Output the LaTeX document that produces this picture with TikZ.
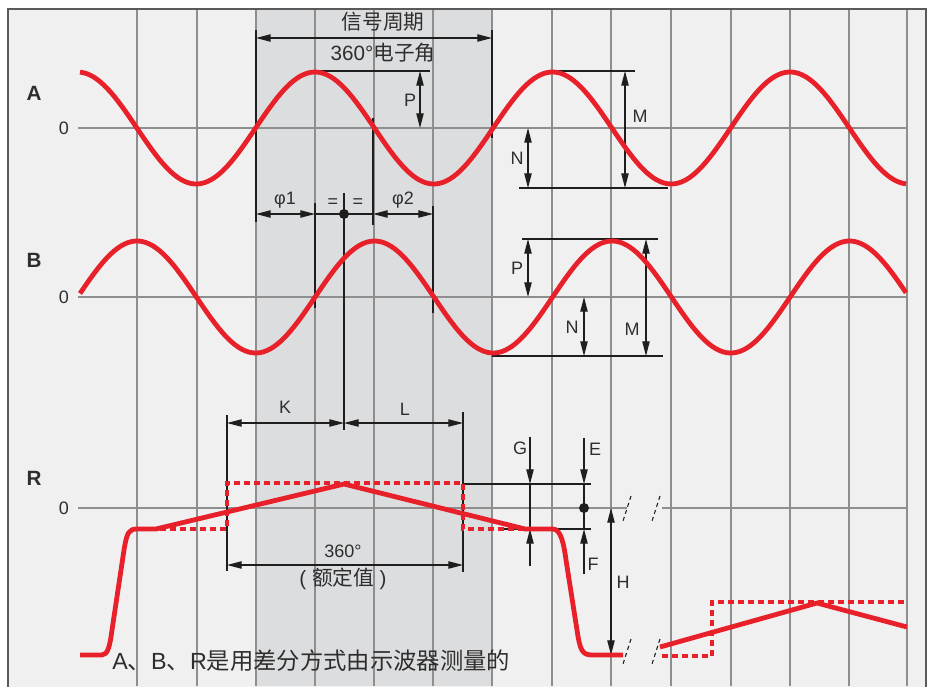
\documentclass[tikz,border=0pt]{standalone}
\usepackage{fontspec}
\setmainfont{Liberation Sans}
\newfontfamily\cjk{Noto Sans CJK SC}
\usetikzlibrary{arrows.meta}
\definecolor{bgc}{HTML}{F0F0F0}
\definecolor{shadec}{HTML}{DCDDDF}
\definecolor{gridc}{HTML}{8E8E8E}
\definecolor{linec}{HTML}{1E1E1E}
\definecolor{txtc}{HTML}{2E2E2E}
\definecolor{redc}{HTML}{E8202A}
\definecolor{framec}{HTML}{5A5A5A}
\begin{document}
\begin{tikzpicture}[x=0.75pt,y=-0.75pt,
  >={Triangle[length=11pt,width=5.5pt]},
  gridl/.style={draw=gridc,line width=0.8pt},
  dimline/.style={draw=linec,line width=0.9pt},
  sig/.style={draw=redc,line width=3.6pt,line join=round},
  dotsig/.style={draw=redc,line width=3.3pt,dash pattern=on 4.5pt off 3pt},
  lbl/.style={text=txtc,font=\fontsize{13.5}{15}\selectfont,inner sep=0pt},
  big/.style={text=txtc,font=\fontsize{15.5}{18}\selectfont,inner sep=0pt},
  chan/.style={text=txtc,font=\fontsize{15.5}{18}\selectfont\bfseries,inner sep=0pt},
  brk/.style={draw=linec,line width=0.8pt,dash pattern=on 3pt off 2.5pt},
  blob/.style={circle,fill=linec,minimum size=7.5pt,inner sep=0pt},
]
\useasboundingbox (0,0) rectangle (928,686);
\fill[white] (0,0) rectangle (928,686);
% frame and shading
\draw[fill=bgc,draw=framec,line width=1pt] (8,9) rectangle (926,700);
\fill[shadec] (256,9.5) rectangle (492,686);
% vertical grid
\foreach \gx in {137,197,256,315,374,433,492,552,611,671,731,790,849,907}
  \draw[gridl] (\gx,9.5) -- (\gx,686);
% zero lines
\draw[gridl] (78,128) -- (906,128);
\draw[gridl] (78,297) -- (906,297);
\draw[gridl] (78,508) -- (627,508);
\draw[gridl] (662,508) -- (906,508);

% ---------- channel labels ----------
\node[chan] (lA) at (34,93) {A};
\node[chan] (lB) at (34,260) {B};
\node[chan] (lR) at (34,478) {R};
\node[lbl] (zA) at (64,128) {0};
\node[lbl] (zB) at (64,297) {0};
\node[lbl] (zR) at (64,508) {0};

% ---------- top period dimension ----------
\coordinate (pL0) at (256,30); \coordinate (pL1) at (256,222);
\coordinate (pR0) at (492,30); \coordinate (pR1) at (492,138);
\draw[dimline] (pL0) -- (pL1);
\draw[dimline] (pR0) -- (pR1);
\coordinate (pa) at (256,38); \coordinate (pb) at (492,38);
\draw[dimline,<->] (pa) -- (pb);
\node[big] (tper) at (383,22) {\cjk 信号周期};
\node[big] (tdeg) at (383,53) {360°{\cjk 电子角}};

% ---------- A annotations ----------
\coordinate (aP0) at (315,71); \coordinate (aP1) at (430,71);
\draw[dimline] (aP0) -- (aP1);
\coordinate (aPt) at (420,71); \coordinate (aPb) at (420,128);
\draw[dimline,<->] (aPt) -- (aPb);
\node[lbl] (tPA) at (410,100) {P};
\coordinate (v373a) at (373,118); \coordinate (v373b) at (373,225);
\draw[dimline] (v373a) -- (v373b);
% right side of A
\coordinate (aM0) at (552,71); \coordinate (aM1) at (635,71);
\draw[dimline] (aM0) -- (aM1);
\coordinate (aN0) at (519,188); \coordinate (aN1) at (668,188);
\draw[dimline] (aN0) -- (aN1);
\coordinate (aNt) at (528,128); \coordinate (aNb) at (528,188);
\draw[dimline,<->] (aNt) -- (aNb);
\node[lbl] (tNA) at (517,158) {N};
\coordinate (aMt) at (625,71); \coordinate (aMb) at (625,188);
\draw[dimline,<->] (aMt) -- (aMb);
\node[lbl] (tMA) at (640,116) {M};

% ---------- phase dimensions ----------
\coordinate (v315a) at (315,203); \coordinate (v315b) at (315,308);
\draw[dimline] (v315a) -- (v315b);
\coordinate (v433a) at (433,206); \coordinate (v433b) at (433,313);
\draw[dimline] (v433a) -- (v433b);
\coordinate (v344a) at (344,193); \coordinate (v344b) at (344,430);
\draw[dimline] (v344a) -- (v344b);
\coordinate (f1a) at (256,214); \coordinate (f1b) at (315,214);
\draw[dimline,<->] (f1a) -- (f1b);
\coordinate (f2a) at (373,214); \coordinate (f2b) at (433,214);
\draw[dimline,<->] (f2a) -- (f2b);
\draw[dimline] (f1b) -- (f2a);
\node[blob] (mid) at (344,214) {};
\node[lbl] (tf1) at (285,200) {φ1};
\node[lbl] (tf2) at (403,200) {φ2};
\node[lbl] (teq1) at (333,203) {=};
\node[lbl] (teq2) at (358,203) {=};

% ---------- B annotations ----------
\coordinate (bP0) at (522,239); \coordinate (bP1) at (658,239);
\draw[dimline] (bP0) -- (bP1);
\coordinate (bN0) at (492,356); \coordinate (bN1) at (663,356);
\draw[dimline] (bN0) -- (bN1);
\coordinate (bPt) at (528,239); \coordinate (bPb) at (528,297);
\draw[dimline,<->] (bPt) -- (bPb);
\node[lbl] (tPB) at (517,268) {P};
\coordinate (bNt) at (584,297); \coordinate (bNb) at (584,356);
\draw[dimline,<->] (bNt) -- (bNb);
\node[lbl] (tNB) at (572,327) {N};
\coordinate (bMt) at (646,239); \coordinate (bMb) at (646,356);
\draw[dimline,<->] (bMt) -- (bMb);
\node[lbl] (tMB) at (632,329) {M};

% ---------- K / L / 360 ----------
\coordinate (vKa) at (227,415); \coordinate (vKb) at (227,571);
\draw[dimline] (vKa) -- (vKb);
\coordinate (vLa) at (463,412); \coordinate (vLb) at (463,572);
\draw[dimline] (vLa) -- (vLb);
\coordinate (ka) at (227,423); \coordinate (kb) at (344,423); \coordinate (lb) at (463,423);
\draw[dimline,<->] (ka) -- (kb);
\draw[dimline,<->] (kb) -- (lb);
\node[lbl] (tK) at (285,407) {K};
\node[lbl] (tL) at (405,409) {L};
\coordinate (da) at (227,565); \coordinate (db) at (463,565);
\draw[dimline,<->] (da) -- (db);
\node[lbl] (t360) at (343,551) {360°};
\node[big] (tnom) at (343,579) {( {\cjk 额定值} )};

% ---------- G E F H ----------
\coordinate (hG0) at (463,484); \coordinate (hG1) at (591,484);
\draw[dimline] (hG0) -- (hG1);
\coordinate (hF0) at (500,529); \coordinate (hF1) at (591,529);
\draw[dimline] (hF0) -- (hF1);
\coordinate (g0) at (530,437); \coordinate (g1) at (530,484);
\coordinate (g2) at (530,529); \coordinate (g3) at (530,566);
\draw[dimline,->] (g0) -- (g1);
\draw[dimline] (g1) -- (g2);
\draw[dimline,->] (g3) -- (g2);
\node[lbl] (tG) at (520,448) {G};
\coordinate (e0) at (584,438); \coordinate (e1) at (584,484);
\coordinate (e2) at (584,529); \coordinate (e3) at (584,574);
\draw[dimline,->] (e0) -- (e1);
\draw[dimline] (e1) -- (e2);
\draw[dimline,->] (e3) -- (e2);
\node[blob] (edot) at (584,508) {};
\node[lbl] (tE) at (595,449) {E};
\node[lbl] (tF) at (593,564) {F};
\coordinate (h0) at (611,508); \coordinate (h1) at (611,655);
\draw[dimline,<->] (h0) -- (h1);
\node[lbl] (tH) at (623,582) {H};
% break marks
\coordinate (k1a) at (631,496); \coordinate (k1b) at (623,521);
\coordinate (k2a) at (660,496); \coordinate (k2b) at (652,521);
\coordinate (k3a) at (631,639); \coordinate (k3b) at (623,664);
\coordinate (k4a) at (660,639); \coordinate (k4b) at (652,664);
\draw[brk] (k1a) -- (k1b);
\draw[brk] (k2a) -- (k2b);
\draw[brk] (k3a) -- (k3b);
\draw[brk] (k4a) -- (k4b);

% ---------- signals ----------
\draw[sig,line cap=butt] plot[domain=80:906,samples=240] (\x,{128-56*cos(1.515789*(\x-315))});
\draw[sig,line cap=butt] plot[domain=80:906,samples=240] (\x,{297-56*cos(1.515789*(\x-137))});
% R dotted references
\draw[dotsig] (150,529) -- (227,529) -- (227,483) -- (463,483) -- (463,529) -- (525,529);
\draw[dotsig] (662,656) -- (712,656) -- (712,602) -- (907,602);
% R signal
\draw[sig] (80,655) -- (102,655) .. controls (108,655) and (110,645) .. (112,630)
  -- (124,550) .. controls (127,532) and (129,529) .. (137,529) -- (156,529)
  -- (344,484) -- (525,529) -- (553,529)
  .. controls (561,529) and (564,545) .. (566,560) -- (577,630)
  .. controls (580,650) and (582,655) .. (592,655) -- (623,655);
\draw[sig] (660,647) -- (817,603) -- (907,627);

% ---------- footnote ----------
\node[text=txtc,font=\fontsize{17.5}{20}\selectfont,inner sep=0pt,anchor=west] (note) at (112,661)
  {A{\cjk 、}B{\cjk 、}R{\cjk 是用差分方式由示波器测量的}};
\end{tikzpicture}
\end{document}
